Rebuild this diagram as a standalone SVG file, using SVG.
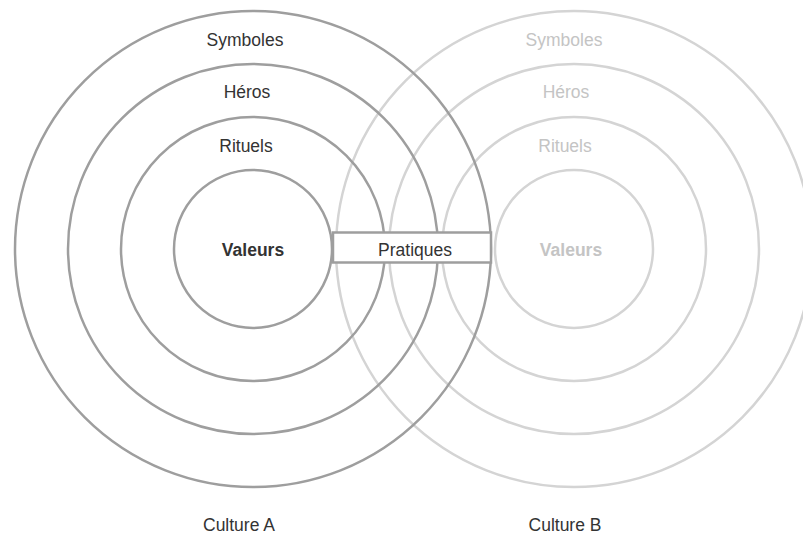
<svg xmlns="http://www.w3.org/2000/svg" width="803" height="540" viewBox="0 0 803 540">
<style>
.ringA{fill:none;stroke:#9e9e9e;stroke-width:2.5}
.ringB{fill:none;stroke:#d4d4d4;stroke-width:2.5}
.t{font-family:"Liberation Sans",Arial,sans-serif;font-size:17.5px;text-anchor:middle}
.tA{fill:#333}
.tB{fill:#c4c4c4}
.b{font-weight:bold}
</style>
<rect width="803" height="540" fill="#fff"/>
<g id="cultureB">
<circle class="ringB" cx="574" cy="249" r="238"/>
<circle class="ringB" cx="574" cy="249" r="185"/>
<circle class="ringB" cx="574" cy="249" r="132"/>
<circle class="ringB" cx="574" cy="249" r="79"/>
<text class="t tB" x="564" y="46">Symboles</text>
<text class="t tB" x="566" y="98">Héros</text>
<text class="t tB" x="565" y="152">Rituels</text>
<text class="t tB b" x="571" y="256">Valeurs</text>
<text class="t tA" x="565" y="531">Culture B</text>
</g>
<g id="cultureA">
<circle class="ringA" cx="253" cy="249" r="238"/>
<circle class="ringA" cx="253" cy="249" r="185"/>
<circle class="ringA" cx="253" cy="249" r="132"/>
<circle class="ringA" cx="253" cy="249" r="79"/>
<text class="t tA" x="245" y="46">Symboles</text>
<text class="t tA" x="247" y="98">Héros</text>
<text class="t tA" x="246" y="152">Rituels</text>
<text class="t tA b" x="253" y="256">Valeurs</text>
<text class="t tA" x="239" y="531">Culture A</text>
</g>
<g id="pratiques">
<rect x="333" y="232.5" width="158" height="30" fill="#fff" stroke="#9e9e9e" stroke-width="2.5"/>
<text class="t tA" x="415" y="256">Pratiques</text>
</g>
</svg>
